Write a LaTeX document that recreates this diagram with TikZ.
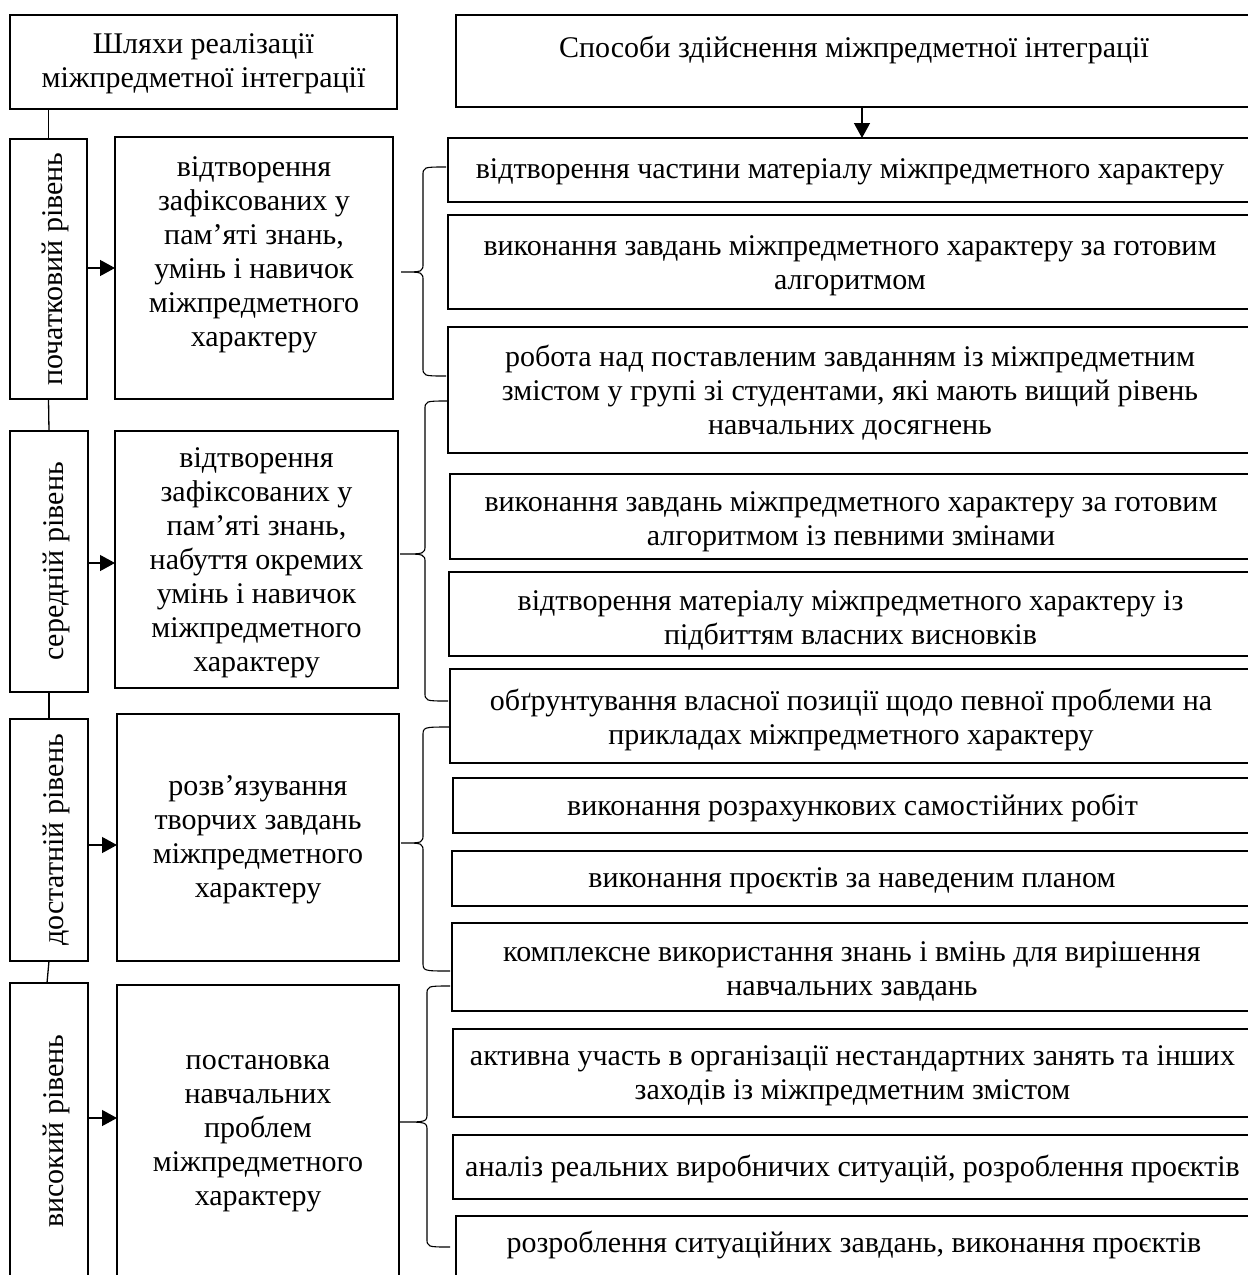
\documentclass[tikz,border=0pt]{standalone}
\usepackage{fontspec}
\setmainfont{Liberation Serif}
\usetikzlibrary{arrows.meta}
\newcommand{\rbox}[6]{%
  \node[box, minimum width={(1252-#2)*1pt}, minimum height={(#4-#3)*1pt},
        label={[tx,yshift=#5pt]center:{#6}}] (#1) at (#2,#3) {};}
\newcommand{\gbox}[7]{%
  \node[box, minimum width={(#4-#2)*1pt}, minimum height={(#5-#3)*1pt},
        label={[tx,yshift=#6pt]center:{#7}}] (#1) at (#2,#3) {};}
\newcommand{\lbox}[6]{%
  \node[box, minimum width={(#4-#2)*1pt}, minimum height={(#5-#3)*1pt},
        label={[tx,xshift=7pt,rotate=90]center:{#6}}] (#1) at (#2,#3) {};}
\newcommand{\brc}[6]{%
  \draw[brc] (#3,#4) .. controls (#2,#4) .. (#2,#4+9) -- (#2,#5-9)
    .. controls (#2,#5) .. (#1,#5) .. controls (#2,#5) .. (#2,#5+9)
    -- (#2,#6-9) .. controls (#2,#6) .. (#3,#6);}
\begin{document}
\begin{tikzpicture}[x=1pt,y=-1pt,
  box/.style={draw, line width=2.5pt, anchor=north west, inner sep=0pt, outer sep=0pt},
  tx/.style={font=\fontsize{30}{34}\selectfont, align=center, inner sep=0pt},
  arr/.style={line width=1.3pt, -{Triangle[length=15pt,width=16pt]}},
  conn/.style={line width=1.3pt},
  brc/.style={line width=1.1pt}]
\useasboundingbox (0,0) rectangle (1248,1275);
\clip (0,0) rectangle (1248,1275);
% titles
\gbox{t1}{10}{15}{397}{109}{-1.5}{Шляхи реалізації\\міжпредметної інтеграції}
\gbox{t2}{456}{15}{1252}{107}{11}{Способи здійснення міжпредметної інтеграції}
% levels
\lbox{l1}{10}{139}{87}{399}{початковий рівень}
\lbox{l2}{10}{431}{88}{692}{середній рівень}
\lbox{l3}{10}{719}{88}{961}{достатній рівень}
\lbox{l4}{10}{983}{88}{1279}{високий рівень}
% middle
\gbox{m1}{115}{137}{393}{399}{13.5}{відтворення\\зафіксованих у\\пам’яті знань,\\умінь і навичок\\міжпредметного\\характеру}
\gbox{m2}{115}{431}{398}{688}{-3}{відтворення\\зафіксованих у\\пам’яті знань,\\набуття окремих\\умінь і навичок\\міжпредметного\\характеру}
\gbox{m3}{117}{714}{399}{961}{-2.5}{розв’язування\\творчих завдань\\міжпредметного\\характеру}
\gbox{m4}{117}{985}{399}{1279}{-2}{постановка\\навчальних\\проблем\\міжпредметного\\характеру}
% right
\rbox{r1}{448}{138}{202}{-2}{відтворення частини матеріалу міжпредметного характеру}
\rbox{r2}{448}{215}{309}{-4}{виконання завдань міжпредметного характеру за готовим\\алгоритмом}
\rbox{r3}{448}{327}{453}{-3}{робота над поставленим завданням із міжпредметним\\змістом у групі зі студентами, які мають вищий рівень\\навчальних досягнень}
\rbox{r4}{450}{474}{559}{-5.5}{виконання завдань міжпредметного характеру за готовим\\алгоритмом із певними змінами}
\rbox{r5}{449}{572}{656}{-6}{відтворення матеріалу міжпредметного характеру із\\підбиттям власних висновків}
\rbox{r6}{450}{669}{763}{-4}{обґрунтування власної позиції щодо певної проблеми на\\прикладах міжпредметного характеру}
\rbox{r7}{453}{778}{833}{-2.5}{виконання розрахункових самостійних робіт}
\rbox{r8}{452}{851}{906}{-2.5}{виконання проєктів за наведеним планом}
\rbox{r9}{452}{923}{1011}{-4}{комплексне використання знань і вмінь для вирішення\\навчальних завдань}
\rbox{r10}{453}{1029}{1117}{-3}{активна участь в організації нестандартних занять та інших\\заходів із міжпредметним змістом}
\rbox{r11}{453}{1135}{1199}{-2}{аналіз реальних виробничих ситуацій, розроблення проєктів}
\rbox{r12}{456}{1216}{1285}{5.5}{розроблення ситуаційних завдань, виконання проєктів}
% connectors
\draw[conn] (l1.north |- t1.south) -- (l1.north);
\draw[conn] (l1.south) -- (l2.north);
\draw[conn] (l2.south) -- (l3.north);
\draw[conn] (l3.south) -- ([xshift=-2pt]l4.north);
\draw[arr] ([xshift=8pt]t2.south) -- ([xshift=8pt]t2.south |- r1.north);
\draw[arr] ([yshift=1pt]l1.east) -- ([yshift=0pt]m1.west);
\draw[arr] ([yshift=-1.5pt]l2.east) -- ([yshift=-3.5pt]m2.west);
\draw[arr] ([yshift=-5pt]l3.east) -- ([yshift=-7.5pt]m3.west);
\draw[arr] ([yshift=13pt]l4.east) -- ([yshift=14pt]m4.west);
% braces
\brc{401}{423}{446}{167}{272}{376}
\brc{400}{425}{448}{401}{554}{701}
\brc{401}{423}{450}{727}{843}{971}
\brc{400}{427}{450}{986}{1122}{1247}
\end{tikzpicture}
\end{document}
